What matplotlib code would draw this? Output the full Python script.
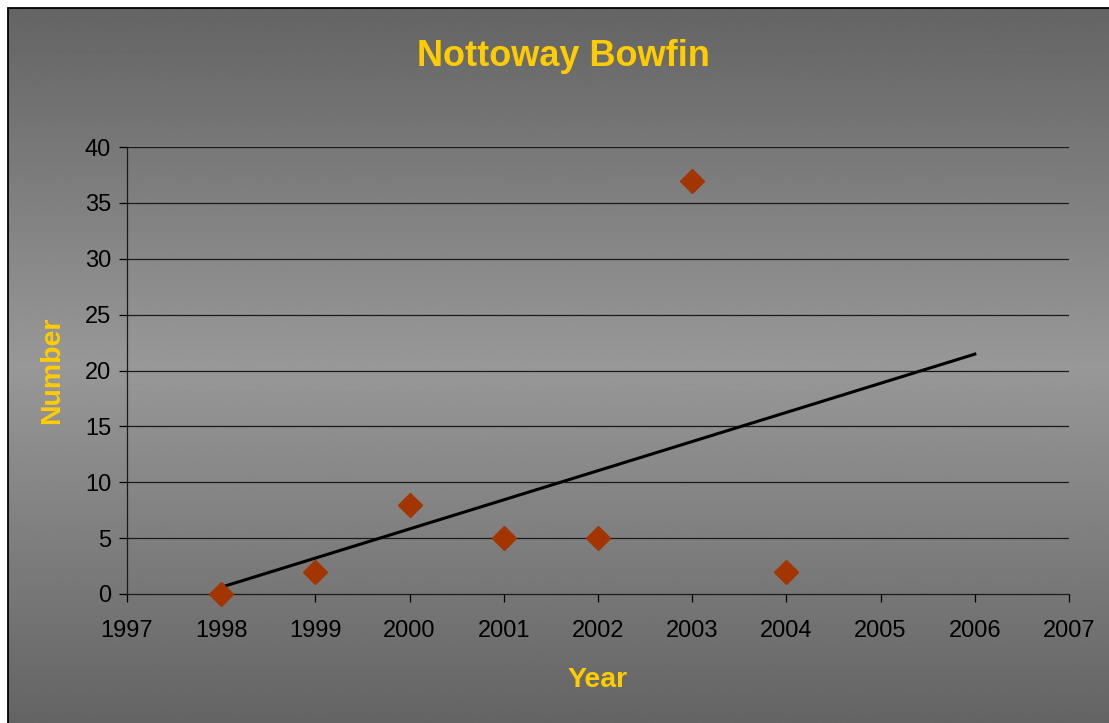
import numpy as np
import matplotlib.pyplot as plt
from matplotlib.patches import Rectangle

years = [1998, 1999, 2000, 2001, 2002, 2003, 2004]
counts = [0, 2, 8, 5, 5, 37, 2]
trend_end = 2006

x_ticks = list(range(1997, 2008))
y_ticks = list(range(0, 41, 5))

plt.rcParams['font.family'] = ['Liberation Sans', 'DejaVu Sans']

W, H = 1109, 723
fig = plt.figure(figsize=(W / 100, H / 100), dpi=100, facecolor='white')

# gradient backdrop, dark at top and bottom, lighter in the middle
bx0, by1 = 8 / W, 1 - 8 / H
bg = fig.add_axes([bx0, 0, 1 - bx0, by1])
rows = np.linspace(0, 1, 400)
shade = (100 + 52 * (1 - np.abs(rows - 0.5) / 0.5)) / 255
img = np.repeat(shade[:, None], 2, axis=1)
bg.imshow(img, cmap='gray', vmin=0, vmax=1, aspect='auto',
          extent=[0, 1, 0, 1], interpolation='bilinear')
bg.set_axis_off()
fig.patches.append(Rectangle((bx0, -0.01), 1.0, by1 + 0.01, transform=fig.transFigure,
                             fill=False, edgecolor='black', linewidth=1.3))

ax = fig.add_axes([127 / W, 1 - 594 / H, (1069 - 127) / W, (594 - 147) / H])
ax.set_facecolor('none')

for t in y_ticks[1:]:
    ax.axhline(t, color='#1a1a1a', linewidth=0.9, zorder=1)

slope, icpt = np.polyfit(years, counts, 1)
tx = np.array([years[0], trend_end])
ax.plot(tx, slope * tx + icpt, color='black', linewidth=2.2, zorder=2)

ax.plot(years, counts, linestyle='none', marker='D', markersize=12,
        color='#a33500', markeredgecolor='#a33500', zorder=3, clip_on=False)

ax.set_xlim(1997, 2007)
ax.set_ylim(0, 40)
ax.set_xticks(x_ticks)
ax.set_yticks(y_ticks)
ax.tick_params(direction='out', length=5.5, width=0.9, color='black',
               labelsize=17, labelcolor='black')
ax.tick_params(axis='x', pad=13)
ax.tick_params(axis='y', pad=6)
for s in ['top', 'right']:
    ax.spines[s].set_visible(False)
for s in ['left', 'bottom']:
    ax.spines[s].set_color('#1a1a1a')
    ax.spines[s].set_linewidth(0.9)

fig.text(563 / W, 1 - 57 / H, 'Nottoway Bowfin', color='#ffcc00', fontsize=26,
         fontweight='bold', ha='center', va='center')
fig.text(52 / W, 1 - 370 / H, 'Number', color='#ffcc00', fontsize=20.5,
         fontweight='bold', ha='center', va='center', rotation=90)
fig.text(598 / W, 1 - 680 / H, 'Year', color='#ffcc00', fontsize=20.5,
         fontweight='bold', ha='center', va='center')

fig.savefig('out.png', dpi=100, facecolor='white')
